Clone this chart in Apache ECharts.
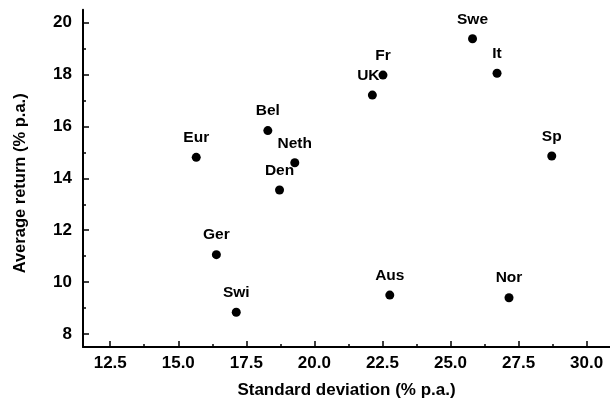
<!DOCTYPE html>
<html>
<head>
<meta charset="utf-8">
<script src="https://cdn.jsdelivr.net/npm/echarts@6/dist/echarts.min.js"></script>
<style>html,body{margin:0;padding:0;background:#fff}#c{width:610px;height:398px}</style>
</head>
<body>
<div id="c"></div>
<script>
const countries = ['Eur','Bel','Neth','Den','Swe','Fr','UK','It','Sp','Ger','Swi','Aus','Nor'];
const stdDev    = [15.66,18.29,19.28,18.72,25.81,22.52,22.13,26.71,28.72,16.40,17.13,22.77,27.15];
const avgReturn = [14.81,15.84,14.60,13.55,19.38,17.98,17.21,18.05,14.86,11.06,8.84,9.50,9.40];
const xTicks = [12.5,15,17.5,20,22.5,25,27.5,30];
const xMinorTicks = [13.75,16.25,18.75,21.25,23.75,26.25,28.75];
const yTicks = [8,10,12,14,16,18,20];
const yMinorTicks = [9,11,13,15,17,19];

const labelOffsets = {UK: [-4, 0]};
const FONT = 'Liberation Sans';

const chart = echarts.init(document.getElementById('c'), null, {renderer: 'canvas'});
const data = countries.map((n, i) => {
  const d = {name: n, value: [stdDev[i], avgReturn[i]]};
  if (labelOffsets[n]) d.label = {offset: labelOffsets[n]};
  return d;
});
const xBase = {type: 'value', min: 11.5, max: 30.86, splitLine: {show: false}, position: 'bottom'};
const yBase = {type: 'value', min: 7.5, max: 20.5, splitLine: {show: false}, position: 'left'};
chart.setOption({
  animation: false,
  backgroundColor: '#fff',
  grid: {left: 83, right: 0, top: 9.7, bottom: 51, containLabel: false, outerBoundsMode: 'none'},
  xAxis: [
    Object.assign({}, xBase, {
      name: 'Standard deviation (% p.a.)',
      nameLocation: 'middle', nameGap: 35,
      nameTextStyle: {fontFamily: FONT, fontSize: 17, fontWeight: 'bold', color: '#000'},
      axisLine: {show: true, lineStyle: {color: '#000', width: 2}},
      axisTick: {show: true, inside: true, length: 6, lineStyle: {color: '#000', width: 1.5}, customValues: xTicks},
      axisLabel: {show: true, customValues: xTicks, margin: 8, color: '#000', fontFamily: FONT, fontSize: 17, fontWeight: 'bold',
        formatter: v => Number(v).toFixed(1)}
    }),
    Object.assign({}, xBase, {
      axisLine: {show: false},
      axisTick: {show: true, inside: true, length: 3, lineStyle: {color: '#000', width: 1.5}, customValues: xMinorTicks},
      axisLabel: {show: false}
    })
  ],
  yAxis: [
    Object.assign({}, yBase, {
      name: 'Average return (% p.a.)',
      nameLocation: 'middle', nameGap: 54,
      nameTextStyle: {fontFamily: FONT, fontSize: 16.5, fontWeight: 'bold', color: '#000', padding: [0, 0, 0, -10]},
      axisLine: {show: true, lineStyle: {color: '#000', width: 2}},
      axisTick: {show: true, inside: true, length: 6, lineStyle: {color: '#000', width: 1.5}, customValues: yTicks},
      axisLabel: {show: true, customValues: yTicks, margin: 11, color: '#000', fontFamily: FONT, fontSize: 17, fontWeight: 'bold',
        formatter: v => String(Math.round(v))}
    }),
    Object.assign({}, yBase, {
      axisLine: {show: false},
      axisTick: {show: true, inside: true, length: 3, lineStyle: {color: '#000', width: 1.5}, customValues: yMinorTicks},
      axisLabel: {show: false}
    })
  ],
  series: [{
    type: 'scatter',
    xAxisIndex: 0, yAxisIndex: 0,
    symbol: 'circle', symbolSize: 9,
    itemStyle: {color: '#000', opacity: 1},
    label: {show: true, position: 'top', distance: 7, formatter: '{b}', color: '#000', fontFamily: FONT, fontSize: 15.5, fontWeight: 'bold'},
    data: data
  }]
});
</script>
</body>
</html>
